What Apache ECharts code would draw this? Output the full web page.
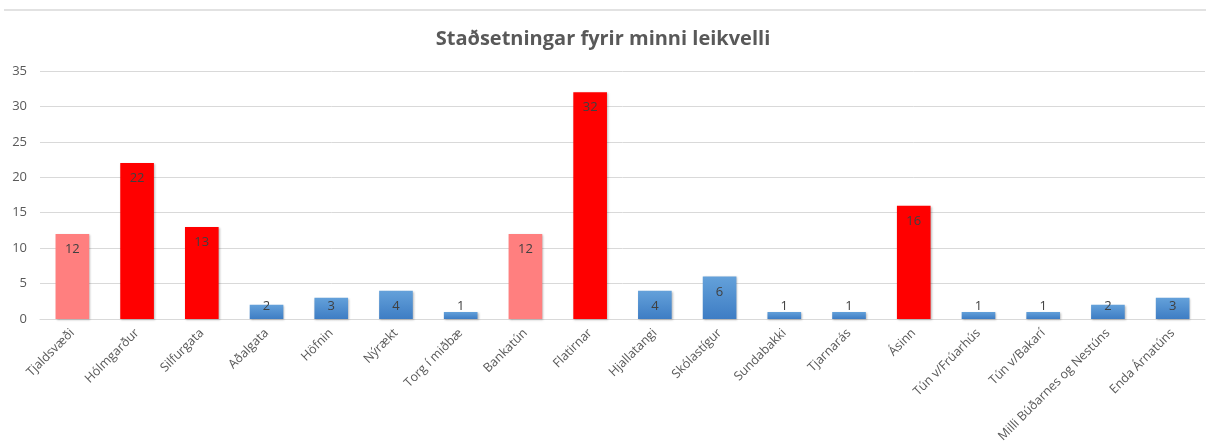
<!DOCTYPE html>
<html>
<head>
<meta charset="utf-8">
<script src="https://cdn.jsdelivr.net/npm/echarts@6/dist/echarts.min.js"></script>
<style>
html,body{margin:0;padding:0;background:#fff;}
#chart{width:1206px;height:441px;}
</style>
</head>
<body>
<div id="chart"></div>
<script>
const titleText = 'Staðsetningar fyrir minni leikvelli';
const categories = ['Tjaldsvæði','Hólmgarður','Silfurgata','Aðalgata','Höfnin','Nýrækt','Torg í miðbæ','Bankatún','Flatirnar','Hjallatangi','Skólastígur','Sundabakki','Tjarnarás','Ásinn','Tún v/Frúarhús','Tún v/Bakarí','Milli Búðarnes og Nestúns','Enda Árnatúns'];
const values = [12,22,13,2,3,4,1,12,32,4,6,1,1,16,1,1,2,3];
const barKinds = ['light','red','red','blue','blue','blue','blue','light','red','blue','blue','blue','blue','red','blue','blue','blue','blue'];
const yTicks = {min:0, max:35, interval:5};

const kindColor = {
  light: '#FF7F7F',
  red: '#FF0000',
  blue: {type:'linear',x:0,y:0,x2:0,y2:1,colorStops:[{offset:0,color:'#64A1DA'},{offset:1,color:'#3E7DC4'}]}
};

const data = values.map((v,i)=>({
  value: v,
  itemStyle: {color: kindColor[barKinds[i]]},
  label: v >= 4 ? {position:'insideTop', distance:9} : {position:'insideBottom', distance:6}
}));

const chart = echarts.init(document.getElementById('chart'));
chart.setOption({
  animation:false,
  backgroundColor:'#fff',
  title:{
    text:titleText, left:'center', top:24,
    textStyle:{fontFamily:'Open Sans', fontWeight:700, fontSize:20, color:'#595959'}
  },
  graphic:[{type:'line', shape:{x1:4,y1:10,x2:1206,y2:10}, style:{stroke:'#d9d9d9', lineWidth:1.5}}],
  grid:{left:40, right:1, top:71, bottom:122, containLabel:false, outerBoundsMode:'none'},
  xAxis:{
    type:'category', data:categories,
    axisLine:{lineStyle:{color:'#d9d9d9'}},
    axisTick:{show:false},
    axisLabel:{rotate:45, interval:0, color:'#595959', fontFamily:'Open Sans', fontSize:12.5, margin:12}
  },
  yAxis:{
    type:'value', min:yTicks.min, max:yTicks.max, interval:yTicks.interval,
    axisLine:{show:false}, axisTick:{show:false},
    splitLine:{lineStyle:{color:'#d9d9d9'}},
    axisLabel:{color:'#595959', fontFamily:'Open Sans', fontSize:13, margin:13}
  },
  series:[{
    type:'bar', data:data, barWidth:'52%',
    itemStyle:{shadowColor:'rgba(0,0,0,0.25)', shadowBlur:2, shadowOffsetX:1, shadowOffsetY:1},
    label:{show:true, color:'#404040', fontFamily:'Open Sans', fontSize:13}
  }]
});
</script>
</body>
</html>
